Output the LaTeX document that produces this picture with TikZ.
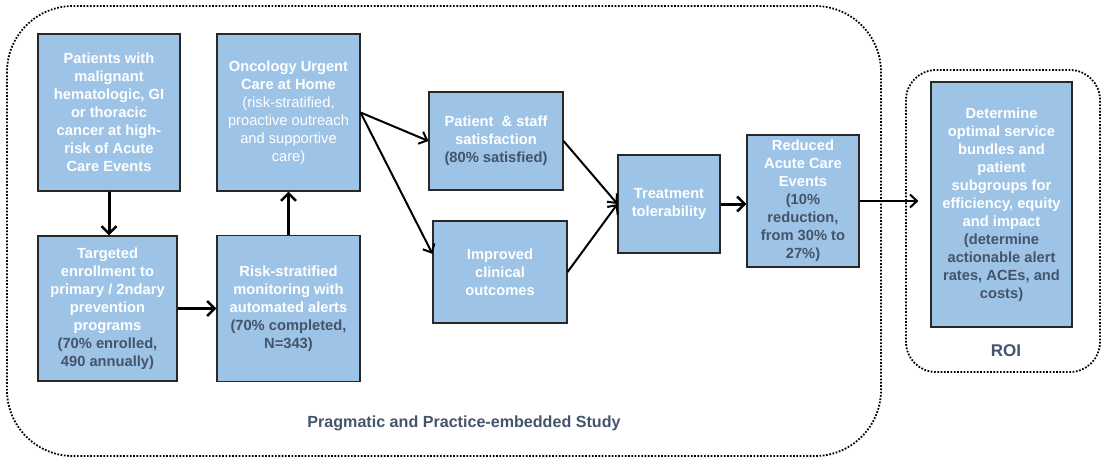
\documentclass[tikz,border=0pt]{standalone}
\usepackage{fontspec}
\setmainfont{Liberation Sans}
\usetikzlibrary{arrows.meta}
\definecolor{boxblue}{RGB}{157,195,230}
\definecolor{slate}{RGB}{68,84,106}
\definecolor{edge}{RGB}{40,40,40}
\newcommand\dk[1]{\textcolor{slate}{#1}}
\newcommand\rg[1]{{\mdseries #1}}
\begin{document}
\begin{tikzpicture}[x=1pt,y=-1pt,
  box/.style={draw=edge, line width=1.1pt, fill=boxblue, align=center,
    inner sep=0pt, text=white, font=\fontsize{14.7}{18}\selectfont\bfseries},
  bigarr/.style={line width=3pt, -{Straight Barb[length=7.5pt,width=15pt,line width=2.6pt]}},
  thinarr/.style={line width=2pt, -{Straight Barb[length=7pt,width=13pt,line width=2pt]}},
  dotbox/.style={line width=1.8pt, dash pattern=on 1.7pt off 1.6pt},
  caption/.style={text=slate, font=\fontsize{16.1}{19}\selectfont\bfseries}]
\useasboundingbox (0,0) rectangle (1102,458);

% study and ROI frames
\draw[dotbox, rounded corners=66pt] (7,6) rectangle (881,456);
\draw[dotbox, rounded corners=30pt] (906,70) rectangle (1100,372);

% boxes
\node[box, minimum width=142pt, minimum height=157pt] (pat) at (109,112.5)
  {Patients with\\malignant\\hematologic, GI\\or thoracic\\cancer at high-\\risk of Acute\\Care Events};
\node[box, minimum width=143pt, minimum height=157pt] (onc) at (288.5,112.5)
  {Oncology Urgent\\Care at Home\\\rg{(risk-stratified,}\\\rg{proactive outreach}\\\rg{and supportive}\\\rg{care)}};
\node[box, minimum width=139pt, minimum height=145pt] (tgt) at (107.5,308.5)
  {Targeted\\enrollment to\\primary / 2ndary\\prevention\\programs\\\dk{(70\% enrolled,}\\\dk{490 annually)}};
\node[box, minimum width=143pt, minimum height=146pt] (risk) at (288.5,308.5)
  {Risk-stratified\\monitoring with\\automated alerts\\\dk{(70\% completed,}\\\dk{N=343)}};
\node[box, minimum width=134pt, minimum height=98pt] (sat) at (496,141)
  {Patient~ \& staff\\satisfaction\\\dk{(80\% satisfied)}};
\node[box, minimum width=134pt, minimum height=102pt] (imp) at (500,272)
  {Improved\\clinical\\outcomes};
\node[box, minimum width=102pt, minimum height=98pt] (trt) at (669,204)
  {Treatment\\tolerability};
\node[box, minimum width=112pt, minimum height=132pt] (red) at (803,201)
  {Reduced\\Acute Care\\Events\\\dk{(10\%}\\\dk{reduction,}\\\dk{from 30\% to}\\\dk{27\%)}};
\node[box, minimum width=141pt, minimum height=245pt] (det) at (1001.5,204.5)
  {Determine\\optimal service\\bundles and\\patient\\subgroups for\\efficiency, equity\\and impact\\\dk{(determine}\\\dk{actionable alert}\\\dk{rates, ACEs, and}\\\dk{costs)}};

% captions
\node[caption] (study) at (464,423) {Pragmatic and Practice-embedded Study};
\node[caption, font=\fontsize{17}{20}\selectfont\bfseries] (roi) at (1006,351) {ROI};

% connectors
\draw[bigarr] (pat.south) -- (pat.south |- tgt.north);
\draw[bigarr] (tgt.east) -- (tgt.east -| risk.west);
\draw[bigarr] (risk.north) -- (onc.south);
\draw[thinarr] (onc.east) -- (sat.west);
\draw[thinarr] (onc.east) -- (imp.165);
\draw[thinarr] (sat.east) -- (trt.west);
\draw[thinarr] (imp.east) -- (trt.west);
\draw[bigarr] (trt.east) -- (trt.east -| red.west);
\draw[thinarr, shorten >=12pt] (red.east) -- (red.east -| det.west);
\end{tikzpicture}
\end{document}
